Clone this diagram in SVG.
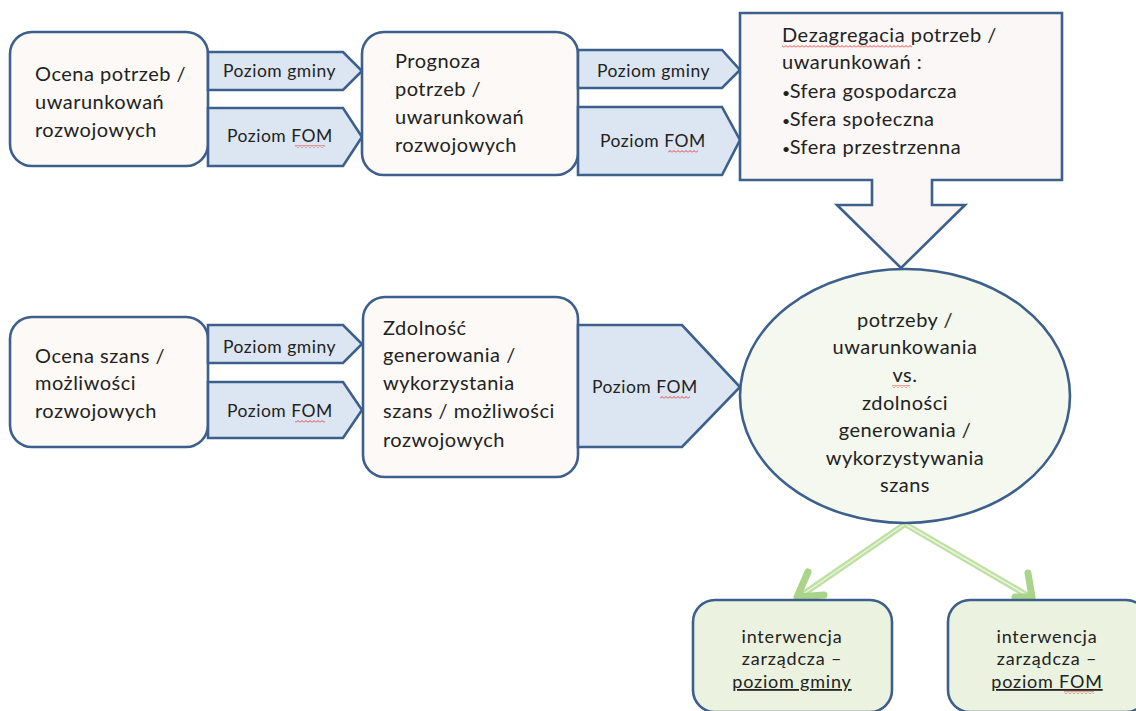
<svg xmlns="http://www.w3.org/2000/svg" width="1136" height="711" viewBox="0 0 1136 711">
<defs>
<style>
.box{fill:#fdf9f6;stroke:#3d5f8c;stroke-width:2.6}
.pent{fill:#dce6f2;stroke:#3d5f8c;stroke-width:2.6;stroke-linejoin:miter}
.ell{fill:#f4f8ee;stroke:#3d5f8c;stroke-width:2.6}
.gbox{fill:#ebf2df;stroke:#3d5f8c;stroke-width:2.6}
text{font-family:Lato,"Liberation Sans",sans-serif;fill:#222}
.t{font-size:20px;letter-spacing:0.5px}
.l{font-size:17.5px;letter-spacing:0.5px}
.s{font-size:18px;letter-spacing:0.8px}
.c{text-anchor:middle}
.b{font-size:14px}
.gl{fill:none;stroke:#bfe0a3;stroke-width:6}
.gi{fill:none;stroke:#eaf5e0;stroke-width:1.5}
.gh{fill:none;stroke:#a9d48a;stroke-width:7;stroke-linecap:round;stroke-linejoin:round}
</style>
<pattern id="wave" width="4" height="3" patternUnits="userSpaceOnUse">
<path d="M0,2.5 L2,0.5 L4,2.5" fill="none" stroke="#e03030" stroke-width="0.9"/>
</pattern>
</defs>

<g id="connectors">
<line class="gl" x1="905" y1="524" x2="799" y2="597"/>
<line class="gi" x1="905" y1="524" x2="799" y2="597"/>
<line class="gl" x1="905" y1="524" x2="1030" y2="597"/>
<line class="gi" x1="905" y1="524" x2="1030" y2="597"/>
<path class="gh" d="M808,572 L797,597 L824,595"/>
<path class="gh" d="M1028,573 L1032,597 L1015,597"/>
</g>

<g id="ocena-potrzeb">
<rect class="box" x="10" y="32" width="198" height="134" rx="22"/>
<text class="t" x="35" y="81">Ocena potrzeb /</text>
<text class="t" x="35" y="109">uwarunkowań</text>
<text class="t" x="35" y="137">rozwojowych</text>
</g>

<g id="a1-gminy">
<path class="pent" d="M208,52 H343 L362,71 L343,90 H208 Z"/>
<text class="l" x="223" y="77">Poziom gminy</text>
</g>
<g id="a1-fom">
<path class="pent" d="M208,108 H343 L362,137 L343,166 H208 Z"/>
<text class="l" x="227" y="142">Poziom FOM</text>
<rect x="295" y="145" width="30" height="3" fill="url(#wave)"/>
</g>

<g id="prognoza">
<rect class="box" x="362" y="32" width="216" height="143" rx="22"/>
<text class="t" x="395" y="68">Prognoza</text>
<text class="t" x="395" y="96">potrzeb /</text>
<text class="t" x="395" y="124">uwarunkowań</text>
<text class="t" x="395" y="152">rozwojowych</text>
</g>

<g id="a2-gminy">
<path class="pent" d="M578,50 H722 L740,70 L722,88 H578 Z"/>
<text class="l" x="597" y="77">Poziom gminy</text>
</g>
<g id="a2-fom">
<path class="pent" d="M578,107 H722 L740,140 L722,175 H578 Z"/>
<text class="l" x="600" y="147">Poziom FOM</text>
<rect x="668" y="150" width="30" height="3" fill="url(#wave)"/>
</g>

<g id="dezagregacja">
<path class="box" d="M740,13 H1062 V180 H932 V205 H965 L901,268 L837,205 H872 V180 H740 Z" style="fill:#fbf7f6"/>
<text class="t" x="782" y="42">Dezagregacia potrzeb /</text>
<rect x="782" y="45" width="130" height="3" fill="url(#wave)"/>
<text class="t" x="782" y="69">uwarunkowań :</text>
<text class="t" x="782" y="98"><tspan class="b">•</tspan><tspan dx="-1">Sfera gospodarcza</tspan></text>
<text class="t" x="782" y="126"><tspan class="b">•</tspan><tspan dx="-1">Sfera społeczna</tspan></text>
<text class="t" x="782" y="154"><tspan class="b">•</tspan><tspan dx="-1">Sfera przestrzenna</tspan></text>
</g>

<g id="ocena-szans">
<rect class="box" x="10" y="317" width="198" height="130" rx="22"/>
<text class="t" x="35" y="363">Ocena szans /</text>
<text class="t" x="35" y="390">możliwości</text>
<text class="t" x="35" y="418">rozwojowych</text>
</g>

<g id="a3-gminy">
<path class="pent" d="M208,325 H343 L362,344 L343,363 H208 Z"/>
<text class="l" x="223" y="353">Poziom gminy</text>
</g>
<g id="a3-fom">
<path class="pent" d="M208,382 H343 L362,410 L343,438 H208 Z"/>
<text class="l" x="227" y="417">Poziom FOM</text>
<rect x="295" y="420" width="30" height="3" fill="url(#wave)"/>
</g>

<g id="zdolnosc">
<rect class="box" x="363" y="297" width="215" height="180" rx="22"/>
<text class="t" x="383" y="335">Zdolność</text>
<text class="t" x="383" y="362">generowania /</text>
<text class="t" x="383" y="390">wykorzystania</text>
<text class="t" x="383" y="418">szans / możliwości</text>
<text class="t" x="383" y="447">rozwojowych</text>
</g>

<g id="a4-fom">
<path class="pent" d="M578,325 H682 L740,387 L682,447 H578 Z"/>
<text class="l" x="592" y="393">Poziom FOM</text>
<rect x="660" y="396" width="30" height="3" fill="url(#wave)"/>
</g>

<g id="porownanie">
<ellipse class="ell" cx="905" cy="396" rx="165" ry="127"/>
<text class="t c" x="905" y="327">potrzeby /</text>
<text class="t c" x="905" y="354">uwarunkowania</text>
<text class="t c" x="905" y="382">vs.</text>
<rect x="892" y="385" width="18" height="3" fill="url(#wave)"/>
<text class="t c" x="905" y="410">zdolności</text>
<text class="t c" x="905" y="437">generowania /</text>
<text class="t c" x="905" y="465">wykorzystywania</text>
<text class="t c" x="905" y="492">szans</text>
</g>

<g id="interwencja-gmina">
<rect class="gbox" x="693" y="600" width="199" height="112" rx="22"/>
<text class="s c" x="792" y="643">interwencja</text>
<text class="s c" x="792" y="665">zarządcza –</text>
<text class="s c" x="792" y="688" text-decoration="underline">poziom gminy</text>
</g>

<g id="interwencja-fom">
<rect class="gbox" x="948" y="600" width="200" height="112" rx="22"/>
<text class="s c" x="1047" y="643">interwencja</text>
<text class="s c" x="1047" y="665">zarządcza –</text>
<text class="s c" x="1047" y="688" text-decoration="underline">poziom FOM</text>
<rect x="1064" y="691" width="30" height="3" fill="url(#wave)"/>
</g>
</svg>
